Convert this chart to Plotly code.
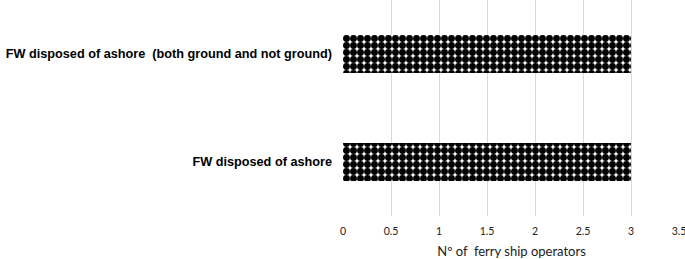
import plotly.graph_objects as go

categories = ["FW disposed of ashore", "FW disposed of ashore  (both ground and not ground)"]
values = [3, 3]
x_ticks = [0, 0.5, 1, 1.5, 2, 2.5, 3, 3.5]
x_title = "Nº of  ferry ship operators"

fig = go.Figure(go.Bar(
    y=categories, x=values, orientation="h",
    marker=dict(
        color="white",
        line=dict(width=0),
        pattern=dict(shape=".", fgcolor="black", bgcolor="white", size=7, solidity=0.75, fillmode="replace"),
    ),
))

fig.update_layout(
    width=685, height=259,
    margin=dict(l=343, r=5, t=0, b=43),
    paper_bgcolor="white", plot_bgcolor="white",
    bargap=0.65,
    showlegend=False,
    xaxis=dict(
        range=[0, 3.51], tickvals=x_ticks, ticktext=[str(v) for v in x_ticks],
        automargin=False, ticklabeloverflow="allow", ticklabelstandoff=7,
        showgrid=True, gridcolor="#d9d9d9", gridwidth=1, zeroline=False,
        showline=False, ticks="",
        tickfont=dict(family="Lato, Open Sans, sans-serif", size=10.5, color="#222"),
        title=dict(text=x_title, font=dict(family="Lato, Open Sans, sans-serif", size=13, color="#222"), standoff=13),
    ),
    yaxis=dict(
        automargin=False,
        showgrid=False, zeroline=False, showline=False, ticks="",
        tickfont=dict(family="Liberation Sans, Arial, sans-serif", size=12.7, color="black"),
        ticklabelstandoff=10,
    ),
)
fig.update_yaxes(tickprefix="<b>", ticksuffix="</b>")

fig.write_html("out.html", config={"displayModeBar": False},
               post_script="document.body.style.margin='0';")
